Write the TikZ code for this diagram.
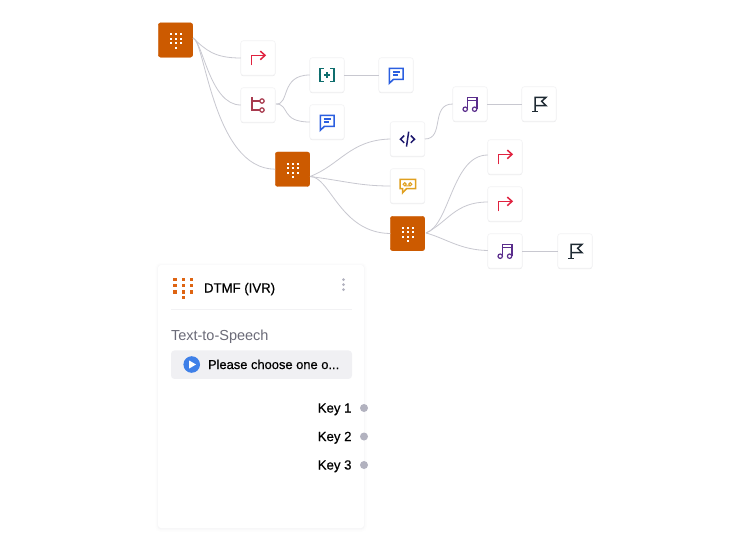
\documentclass[tikz,border=0pt]{standalone}
\usepackage{fontspec}
\setmainfont{Liberation Sans}
\newfontfamily\medfont[FakeBold=0.6]{Liberation Sans}
\usetikzlibrary{shadows}
\definecolor{orng}{HTML}{CC5A00}
\definecolor{gridc}{HTML}{DE6412}
\definecolor{lnk}{HTML}{C8C8D0}
\definecolor{edgec}{HTML}{F2F2F4}
\definecolor{redc}{HTML}{E0223F}
\definecolor{maroon}{HTML}{A83A4E}
\definecolor{tealc}{HTML}{0F6E6E}
\definecolor{bluec}{HTML}{2B5FE0}
\definecolor{navy}{HTML}{1F1A6E}
\definecolor{purp}{HTML}{5A2D8C}
\definecolor{darkc}{HTML}{1F2A33}
\definecolor{yelc}{HTML}{E0A020}
\definecolor{greyt}{HTML}{6B6B78}
\definecolor{pillc}{HTML}{F0F0F3}
\definecolor{dotc}{HTML}{B2B2BF}
\definecolor{playc}{HTML}{3F80E8}
\definecolor{shadeA}{HTML}{FDFDFD}
\definecolor{shadeB}{HTML}{FAFAFB}
\definecolor{shadeC}{HTML}{F6F6F7}
\tikzset{
  x=1pt,y=-1pt,
  tile/.style={draw=edgec,line width=0.6pt,fill=white,rounded corners=2.5pt,minimum width=34.5pt,minimum height=34.5pt,inner sep=0pt,outer sep=0pt,
    drop shadow={shadow xshift=0pt,shadow yshift=-0.8pt,opacity=0.09,fill=black}},
  ivrtile/.style={fill=orng,draw=orng,line width=0.4pt,rounded corners=2.5pt,minimum width=34.5pt,minimum height=34.5pt,inner sep=0pt,outer sep=0pt},
  lnkline/.style={draw=lnk,line width=0.8pt},
  ico/.style={line width=1.5pt,line join=miter},
  cardtext/.style={inner sep=0pt,outer sep=0pt,font=\medfont\fontsize{13.2}{15}\selectfont,text=black},
  keydot/.style={circle,fill=dotc,minimum size=8pt,inner sep=0pt,outer sep=0pt},
  pic dots/.pic={
    \foreach \dx in {-5,0,5}\foreach \dy in {-5.7,-1.2,3.3}
      {\fill[white] (\dx-1,\dy-1) rectangle (\dx+1,\dy+1);}
    \fill[white] (-1,6.8) rectangle (1,8.8);
  },
  pic redirect/.pic={
    \draw[ico,redc] (-6.7,7.3) -- (-6.7,-2.7) -- (6.7,-2.7);
    \draw[ico,redc] (2.3,-6.9) -- (7,-2.7) -- (2.3,1.7);
  },
  pic branch/.pic={
    \draw[ico,maroon] (-6,-7.7) -- (-6,5) -- (1.8,5);
    \draw[ico,maroon] (-6,-4) -- (1.8,-4);
    \draw[line width=1.2pt,maroon] (4,-4) circle (2.2);
    \draw[line width=1.2pt,maroon] (4,5) circle (2.2);
  },
  pic varbox/.pic={
    \draw[ico,tealc] (-3.4,-6.7) -- (-7,-6.7) -- (-7,6.7) -- (-3.4,6.7);
    \draw[ico,tealc] (3.4,-6.7) -- (7,-6.7) -- (7,6.7) -- (3.4,6.7);
    \draw[ico,tealc] (-8.3,0) -- (-7,0) (7,0) -- (8.3,0);
    \draw[line width=1.5pt,tealc] (-3,0) -- (3,0) (0,-3) -- (0,3);
  },
  pic msgbox/.pic={
    \draw[ico,bluec] (-6.7,-6.7) -- (7,-6.7) -- (7,4.3) -- (-2.5,4.3) -- (-6.7,8.3) -- cycle;
    \draw[line width=1.2pt,bluec] (-3.2,-3) -- (4,-3) (-3.2,0) -- (1.5,0);
  },
  pic codemark/.pic={
    \draw[ico,navy] (-3.3,-3.4) -- (-7,0.2) -- (-3.3,3.8);
    \draw[ico,navy] (3.3,-3.4) -- (7,0.2) -- (3.3,3.8);
    \draw[ico,navy] (1.2,-7.4) -- (-1,7.6);
  },
  pic music/.pic={
    \draw[ico,purp] (-2.7,5) -- (-2.7,-6.7) -- (7,-6.7) -- (7,5);
    \draw[line width=0.9pt,purp] (-2.7,-4) -- (7,-4);
    \draw[line width=1.2pt,purp] (-4.8,5.2) circle (2.2);
    \draw[line width=1.2pt,purp] (4.6,5.2) circle (2.2);
  },
  pic flagmark/.pic={
    \draw[ico,darkc] (-6.7,7.3) -- (-1.3,7.3);
    \draw[ico,darkc] (-4,7.3) -- (-4,-6.7) -- (7,-6.7) -- (2.7,-2.7) -- (7,1.7) -- (-4,1.7);
  },
  pic vmail/.pic={
    \draw[ico,yelc] (-7.5,-6.7) -- (8,-6.7) -- (8,2.7) -- (-1,2.7) -- (-4.8,6.7) -- (-4.8,2.7) -- (-7.5,2.7) -- cycle;
    \draw[line width=1pt,yelc] (-2.8,-1.8) circle (1.6) (2.8,-1.8) circle (1.6) (-2.8,-0.2) -- (2.8,-0.2);
  },
}
\begin{document}
\begin{tikzpicture}
\useasboundingbox (0,0) rectangle (750,550);
\fill[white] (0,0) rectangle (750,550);

% card, with a soft shade built of solid pale layers
\fill[shadeA,rounded corners=5pt] (155.5,263) rectangle (366.5,531.5);
\fill[shadeB,rounded corners=4pt] (156.8,264) rectangle (365.2,530);
\fill[shadeC,rounded corners=3pt] (157.6,265) rectangle (364.4,529);
\node[fill=white,minimum width=206pt,minimum height=263pt,inner sep=0pt,rounded corners=3pt,line width=0pt] (card) at (261,396.5) {};

% tiles
\node[ivrtile] (ivrA) at (175.5,40) {};
\node[tile] (redirA) at (258,58) {};
\node[tile] (branchA) at (258,105) {};
\node[tile] (varA) at (327,75) {};
\node[tile] (msgA) at (327,122) {};
\node[tile] (msgB) at (396,75) {};
\node[ivrtile] (ivrB) at (292.5,169.2) {};
\node[tile] (codeA) at (407.5,139) {};
\node[tile] (musicA) at (470,104) {};
\node[tile] (flagA) at (539,104) {};
\node[tile] (vmA) at (407.5,186) {};
\node[ivrtile] (ivrC) at (407.5,233.5) {};
\node[tile] (redirB) at (505,157) {};
\node[tile] (redirC) at (505,204) {};
\node[tile] (musicB) at (505,251) {};
\node[tile] (flagB) at (575,251) {};

\pic at (ivrA) {pic dots};
\pic at (ivrB) {pic dots};
\pic at (ivrC) {pic dots};
\pic at (redirA) {pic redirect};
\pic at (redirB) {pic redirect};
\pic at (redirC) {pic redirect};
\pic at (branchA) {pic branch};
\pic at (varA) {pic varbox};
\pic at (msgA) {pic msgbox};
\pic at (msgB) {pic msgbox};
\pic at (codeA) {pic codemark};
\pic at (musicA) {pic music};
\pic at (musicB) {pic music};
\pic at (flagA) {pic flagmark};
\pic at (flagB) {pic flagmark};
\pic at (vmA) {pic vmail};

% connectors
\coordinate (outA) at (193,38);
\coordinate (outB) at (310,176.5);
\coordinate (outC) at (426,233);
\coordinate (outD) at (276,104);
\draw[lnkline] (outA) .. controls (206,50) and (214,58) .. (redirA.west);
\draw[lnkline] (outA) .. controls (203,42) and (210,105) .. (branchA.west);
\draw[lnkline] (outA) .. controls (205,40) and (213,169) .. (ivrB.west);
\draw[lnkline] (outD) .. controls (290,105) and (280,75) .. (varA.west);
\draw[lnkline] (outD) .. controls (290,104) and (280,122) .. (msgA.west);
\draw[lnkline] (varA.east) -- (msgB.west);
\draw[lnkline] (outB) .. controls (340,165) and (350,140) .. (codeA.west);
\draw[lnkline] (outB) .. controls (345,181) and (360,186) .. (vmA.west);
\draw[lnkline] (outB) .. controls (330,176) and (340,233) .. (ivrC.west);
\draw[lnkline] (codeA.east) .. controls (445,139) and (430,104) .. (musicA.west);
\draw[lnkline] (musicA.east) -- (flagA.west);
\draw[lnkline] (outC) .. controls (450,225) and (452,155) .. ([yshift=2pt]redirB.west);
\draw[lnkline] (outC) .. controls (448,222) and (455,202) .. ([yshift=2pt]redirC.west);
\draw[lnkline] (outC) .. controls (445,238) and (460,250) .. ([yshift=0.5pt]musicB.west);
\draw[lnkline] (musicB.east) -- (flagB.west);

% card header
\foreach \dx in {175,183.3,191.7}\foreach \dy in {279.5,285.6,291.8}
  {\fill[gridc] (\dx-1.7,\dy-1.7) rectangle (\dx+1.7,\dy+1.7);}
\fill[gridc] (181.6,296) rectangle (185,299.4);
\node[cardtext,anchor=base west] (title) at (204,292.5) {DTMF (IVR)};
\foreach \dy in {279.5,284.5,289.5}{\fill[dotc] (343.5,\dy) circle (1.5);}
\coordinate (ruleL) at (171,309);
\coordinate (ruleR) at (351.5,309);
\draw[edgec,line width=0.8pt] (ruleL) -- (ruleR);
\node[cardtext,anchor=base west,text=greyt,font=\fontsize{14.5}{16}\selectfont] (ttslabel) at (171,340.5) {Text-to-Speech};
\node[fill=pillc,rounded corners=3.5pt,minimum width=181pt,minimum height=28.5pt,inner sep=0pt,outer sep=0pt] (pill) at (261.5,364.7) {};
\node[circle,fill=playc,minimum size=16.6pt,inner sep=0pt] (playbtn) at (191.7,364.5) {};
\fill[white] (189.2,360.5) -- (196,364.5) -- (189.2,368.5) -- cycle;
\node[cardtext,anchor=base west,font=\medfont\fontsize{12.9}{15}\selectfont] (ptext) at (208,369) {Please choose one o...};
\node[cardtext,anchor=base east] (keyA) at (351.5,412.5) {Key 1};
\node[cardtext,anchor=base east] (keyB) at (351.5,441) {Key 2};
\node[cardtext,anchor=base east] (keyC) at (351.5,469.5) {Key 3};
\node[keydot] (dotA) at (364,408) {};
\node[keydot] (dotB) at (364,436.5) {};
\node[keydot] (dotC) at (364,465) {};
\end{tikzpicture}
\end{document}
